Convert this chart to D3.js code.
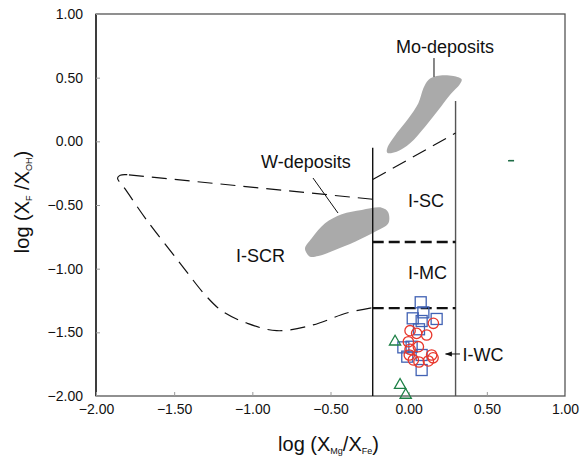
<!DOCTYPE html>
<html>
<head>
<meta charset="utf-8">
<script src="https://cdn.jsdelivr.net/npm/d3@7"></script>
<style>
  html, body { margin: 0; padding: 0; background: #fff; }
  svg { display: block; font-family: "Liberation Sans", Arial, sans-serif; }
</style>
</head>
<body>
<svg id="chart" width="580" height="458"></svg>
<script>
// ---------- data ----------
const xTicks = [-2.0, -1.5, -1.0, -0.5, 0.0, 0.5, 1.0];
const yTicks = [1.0, 0.5, 0.0, -0.5, -1.0, -1.5, -2.0];

// sample groups (log XMg/XFe, log XF/XOH)
const squares = [
  [0.077, -1.264], [0.094, -1.343], [0.026, -1.390], [0.083, -1.411],
  [0.179, -1.395], [0.066, -1.476], [-0.034, -1.618], [0.019, -1.613],
  [0.083, -1.678], [-0.009, -1.691], [0.083, -1.796]
];
const circles = [
  [0.158, -1.429], [0.009, -1.487], [0.051, -1.508], [0.115, -1.521],
  [-0.002, -1.574], [0.062, -1.613], [0.009, -1.633], [0.004, -1.678],
  [0.030, -1.717], [0.066, -1.733], [0.147, -1.678], [0.126, -1.725],
  [0.156, -1.700]
];
const triangles = [[-0.087, -1.574], [-0.055, -1.914], [-0.019, -1.992]];
const greenDash = [[0.655, -0.152]];

// field boundaries
const verticalBounds = [
  { x: -0.23, y0: -2.0, y1: -0.05 },
  { x: 0.30, y0: -2.0, y1: 0.317 }
];
const thickDashBounds = [
  { y: -0.79, x0: -0.23, x1: 0.30 },
  { y: -1.31, x0: -0.23, x1: 0.30 }
];
const scUpperDash = [[-0.23, -0.30], [0.30, 0.065]];
const iscrTopLine = [[-0.23, -0.455], [-1.80, -0.262]];
const iscrCurve = [
  [-1.80, -0.262], [-1.845, -0.266], [-1.862, -0.288], [-1.848, -0.322],
  [-1.825, -0.356], [-1.676, -0.618], [-1.463, -0.956], [-1.292, -1.220],
  [-1.188, -1.338], [-1.036, -1.427], [-0.844, -1.487], [-0.612, -1.442],
  [-0.396, -1.348], [-0.23, -1.306]
];

// ore deposit fields
const wDeposits = [
  [-0.652, -0.879], [-0.663, -0.840], [-0.620, -0.762], [-0.535, -0.644],
  [-0.428, -0.573], [-0.300, -0.539], [-0.172, -0.521], [-0.132, -0.555],
  [-0.130, -0.644], [-0.215, -0.710], [-0.343, -0.788], [-0.471, -0.853],
  [-0.578, -0.901], [-0.631, -0.906]
];
const moDeposits = [
  [-0.137, -0.089], [-0.137, -0.055], [-0.077, 0.063], [-0.002, 0.180],
  [0.062, 0.299], [0.094, 0.416], [0.126, 0.482], [0.179, 0.513],
  [0.286, 0.513], [0.339, 0.487], [0.328, 0.450], [0.264, 0.364],
  [0.190, 0.246], [0.105, 0.115], [0.009, -0.015], [-0.077, -0.081]
];

// labels
const fieldLabels = [
  { text: "Mo-deposits", x: -0.081, y: 0.691, anchor: "start" },
  { text: "W-deposits", x: -0.657, y: -0.209, anchor: "middle" },
  { text: "I-SC", x: -0.004, y: -0.516, anchor: "start" },
  { text: "I-MC", x: -0.004, y: -1.081, anchor: "start" },
  { text: "I-SCR", x: -0.948, y: -0.945, anchor: "middle" },
  { text: "I-WC", x: 0.345, y: -1.725, anchor: "start" }
];
const leaderLines = [
  [[0.162, 0.654], [0.162, 0.505]],
  [[-0.612, -0.288], [-0.452, -0.563]]
];
const arrowLine = [[0.328, -1.670], [0.236, -1.670]];

// ---------- layout ----------
const svg = d3.select("#chart");
const m = { left: 96, top: 14, right: 15, bottom: 62 };
const W = 580 - m.left - m.right;
const H = 458 - m.top - m.bottom;

const x = d3.scaleLinear().domain([-2, 1]).range([m.left, m.left + W]);
const y = d3.scaleLinear().domain([-2, 1]).range([m.top + H, m.top]);
const line = d3.line().x(d => x(d[0])).y(d => y(d[1]));

// frame
svg.append("rect")
  .attr("x", x(-2)).attr("y", y(1))
  .attr("width", x(1) - x(-2)).attr("height", y(-2) - y(1))
  .attr("fill", "none").attr("stroke", "#555").attr("stroke-width", 1.3);
svg.append("line")
  .attr("x1", x(-2)).attr("x2", x(-2)).attr("y1", y(1)).attr("y2", y(-2))
  .attr("stroke", "#111").attr("stroke-width", 1.3);

// axes (inward ticks)
const xAxis = d3.axisBottom(x).tickValues(xTicks).tickSize(-4).tickPadding(8)
  .tickFormat(d3.format(".2f"));
const gx = svg.append("g").attr("transform", `translate(0,${y(-2)})`).call(xAxis);
gx.select(".domain").remove();
gx.selectAll(".tick line").attr("stroke", "#999");
gx.selectAll(".tick text").attr("font-size", 14).attr("fill", "#111")
  .attr("font-family", '"Liberation Sans", Arial, sans-serif');

const yAxis = d3.axisLeft(y).tickValues(yTicks).tickSize(-4).tickPadding(13)
  .tickFormat(d3.format(".2f"));
const gy = svg.append("g").attr("transform", `translate(${x(-2)},0)`).call(yAxis);
gy.select(".domain").remove();
gy.selectAll(".tick line").attr("stroke", "#999");
gy.selectAll(".tick text").attr("font-size", 14).attr("fill", "#111")
  .attr("font-family", '"Liberation Sans", Arial, sans-serif');

// axis titles
const xt = svg.append("text").attr("x", x(-0.5) - 2).attr("y", 451)
  .attr("text-anchor", "middle").attr("font-size", 20).attr("fill", "#111");
xt.append("tspan").text("log (X");
xt.append("tspan").text("Mg").attr("font-size", 9).attr("dy", 3);
xt.append("tspan").text("/X").attr("dy", -3);
xt.append("tspan").text("Fe").attr("font-size", 9).attr("dy", 3);
xt.append("tspan").text(")").attr("dy", -3);

const yt = svg.append("text")
  .attr("transform", `translate(29,${y(-0.5) - 3}) rotate(-90)`)
  .attr("text-anchor", "middle").attr("font-size", 20).attr("fill", "#111");
yt.append("tspan").text("log (X");
yt.append("tspan").text("F").attr("font-size", 9).attr("dy", 3);
yt.append("tspan").text(" /X").attr("dy", -3);
yt.append("tspan").text("OH").attr("font-size", 9).attr("dy", 3);
yt.append("tspan").text(")").attr("dy", -3);

// deposit fields
[wDeposits, moDeposits].forEach(poly => {
  svg.append("path")
    .attr("d", d3.line().x(d => x(d[0])).y(d => y(d[1])).curve(d3.curveCatmullRomClosed.alpha(0.5))(poly))
    .attr("fill", "#aaaaaa").attr("stroke", "none");
});

// boundaries
verticalBounds.forEach((b, i) => {
  svg.append("line")
    .attr("x1", x(b.x)).attr("x2", x(b.x)).attr("y1", y(b.y0)).attr("y2", y(b.y1))
    .attr("stroke", i === 0 ? "#111" : "#555").attr("stroke-width", 1.4);
});
thickDashBounds.forEach(b => {
  svg.append("line")
    .attr("x1", x(b.x0)).attr("x2", x(b.x1)).attr("y1", y(b.y)).attr("y2", y(b.y))
    .attr("stroke", "#111").attr("stroke-width", 2.4).attr("stroke-dasharray", "11,5");
});
svg.append("path").attr("d", line(scUpperDash))
  .attr("fill", "none").attr("stroke", "#111").attr("stroke-width", 1.2)
  .attr("stroke-dasharray", "15,8");
svg.append("path").attr("d", line(iscrTopLine))
  .attr("fill", "none").attr("stroke", "#111").attr("stroke-width", 1.2)
  .attr("stroke-dasharray", "15,8");
svg.append("path")
  .attr("d", d3.line().x(d => x(d[0])).y(d => y(d[1])).curve(d3.curveCatmullRom.alpha(0.5))(iscrCurve))
  .attr("fill", "none").attr("stroke", "#111").attr("stroke-width", 1.2)
  .attr("stroke-dasharray", "15,8");

// leader lines
leaderLines.forEach(l => {
  svg.append("path").attr("d", line(l)).attr("stroke", "#111").attr("stroke-width", 1).attr("fill", "none");
});

// arrow
svg.append("defs").append("marker")
  .attr("id", "ah").attr("viewBox", "0 0 10 10").attr("refX", 9).attr("refY", 5)
  .attr("markerWidth", 7).attr("markerHeight", 7).attr("orient", "auto")
  .append("path").attr("d", "M0,1.5 L10,5 L0,8.5 Z").attr("fill", "#111");
svg.append("path").attr("d", line(arrowLine))
  .attr("stroke", "#111").attr("stroke-width", 1).attr("marker-end", "url(#ah)");

// labels
fieldLabels.forEach(l => {
  svg.append("text").attr("x", x(l.x)).attr("y", y(l.y))
    .attr("text-anchor", l.anchor).attr("font-size", 18).attr("fill", "#111").text(l.text);
});

// points
svg.selectAll("rect.sq").data(squares).enter().append("rect").attr("class", "sq")
  .attr("x", d => x(d[0]) - 5.5).attr("y", d => y(d[1]) - 5.5)
  .attr("width", 11).attr("height", 11)
  .attr("fill", "none").attr("stroke", "#4162b4").attr("stroke-width", 1.3);
svg.selectAll("circle.ci").data(circles).enter().append("circle").attr("class", "ci")
  .attr("cx", d => x(d[0])).attr("cy", d => y(d[1])).attr("r", 5.2)
  .attr("fill", "none").attr("stroke", "#e8362b").attr("stroke-width", 1.3);
const tri = d3.symbol().type(d3.symbolTriangle).size(55);
svg.selectAll("path.tr").data(triangles).enter().append("path").attr("class", "tr")
  .attr("transform", d => `translate(${x(d[0])},${y(d[1])})`)
  .attr("d", tri()).attr("fill", "none").attr("stroke", "#1d8046").attr("stroke-width", 1.3);
svg.selectAll("line.gd").data(greenDash).enter().append("line").attr("class", "gd")
  .attr("x1", d => x(d[0]) - 3).attr("x2", d => x(d[0]) + 3)
  .attr("y1", d => y(d[1])).attr("y2", d => y(d[1]))
  .attr("stroke", "#1d6b45").attr("stroke-width", 1.6);
</script>
</body>
</html>
